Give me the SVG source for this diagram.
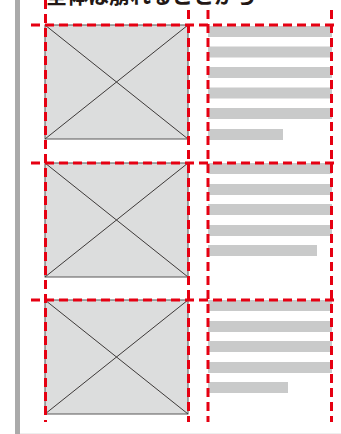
<svg xmlns="http://www.w3.org/2000/svg" width="341" height="434" viewBox="0 0 341 434">
<style>
.img{fill:#dcdddd;stroke:#595757;stroke-width:1}
.x{stroke:#3e3a39;stroke-width:1;fill:none}
.bar{fill:#c9caca}
.guide{stroke:#e60012;stroke-width:3;stroke-dasharray:9 5;fill:none}
.title{font-family:"Noto Sans CJK JP","Noto Sans",sans-serif;font-weight:bold;font-size:21px;fill:#231815}
</style>
<rect x="0" y="0" width="341" height="434" fill="#ffffff"/>
<rect x="15" y="0" width="5" height="434" fill="#aaaaaa"/>
<line x1="20" y1="433.5" x2="341" y2="433.5" stroke="#eeeeee" stroke-width="1"/>
<text class="title" x="46" y="3">全体は崩れることから</text>
<g id="row1">
<rect class="img" x="45" y="25" width="143" height="114"/>
<path class="x" d="M45 25 L188 139 M188 25 L45 139"/>
<rect class="bar" x="208" y="26" width="124" height="11"/>
<rect class="bar" x="208" y="46.5" width="124" height="11"/>
<rect class="bar" x="208" y="67" width="124" height="11"/>
<rect class="bar" x="208" y="87.5" width="124" height="11"/>
<rect class="bar" x="208" y="108" width="124" height="11"/>
<rect class="bar" x="208" y="129" width="75" height="11"/>
</g>
<g id="row2">
<rect class="img" x="45" y="163" width="143" height="114"/>
<path class="x" d="M45 163 L188 277 M188 163 L45 277"/>
<rect class="bar" x="208" y="163" width="124" height="11"/>
<rect class="bar" x="208" y="184" width="124" height="11"/>
<rect class="bar" x="208" y="204" width="124" height="11"/>
<rect class="bar" x="208" y="225" width="124" height="11"/>
<rect class="bar" x="208" y="245" width="109" height="11"/>
</g>
<g id="row3">
<rect class="img" x="45" y="300" width="143" height="114"/>
<path class="x" d="M45 300 L188 414 M188 300 L45 414"/>
<rect class="bar" x="208" y="300" width="124" height="11"/>
<rect class="bar" x="208" y="321" width="124" height="11"/>
<rect class="bar" x="208" y="341" width="124" height="11"/>
<rect class="bar" x="208" y="362" width="124" height="11"/>
<rect class="bar" x="208" y="382" width="80" height="11"/>
</g>
<g id="guides">
<line class="guide" x1="31" y1="25" x2="337" y2="25"/>
<line class="guide" x1="31" y1="163" x2="337" y2="163"/>
<line class="guide" x1="31" y1="300" x2="337" y2="300"/>
<line class="guide" x1="45.5" y1="0" x2="45.5" y2="422"/>
<line class="guide" x1="188.5" y1="10" x2="188.5" y2="422"/>
<line class="guide" x1="208" y1="10" x2="208" y2="422"/>
<line class="guide" x1="331.5" y1="10" x2="331.5" y2="422"/>
</g>
</svg>
